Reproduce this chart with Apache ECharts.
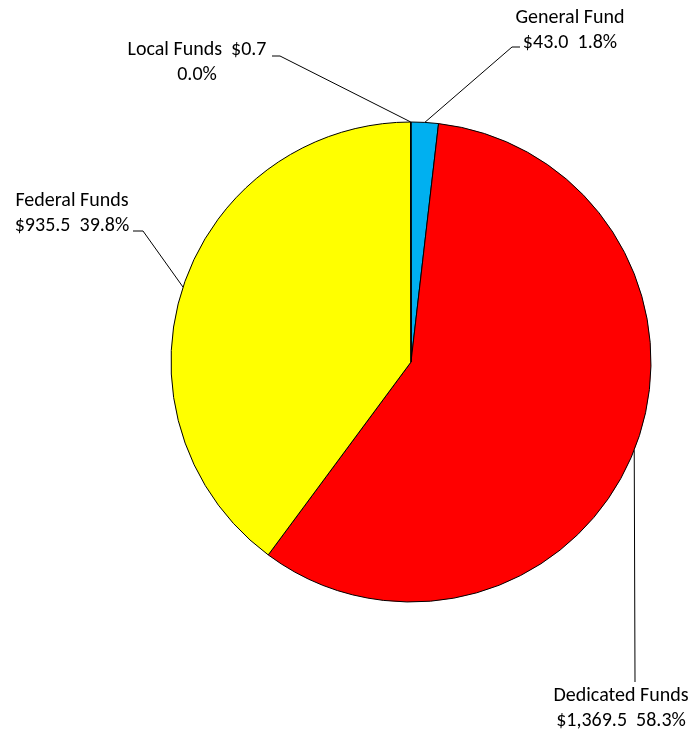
<!DOCTYPE html>
<html>
<head>
<meta charset="utf-8">
<script src="https://cdn.jsdelivr.net/npm/echarts@6/dist/echarts.min.js"></script>
<style>
  html, body { margin: 0; padding: 0; background: #fff; }
</style>
</head>
<body>
<div id="chart" style="width: 696px; height: 734px"></div>
<script>
// funds, in millions, clockwise from 12 o'clock
const names = ["General Fund", "Dedicated Funds", "Federal Funds", "Local Funds"];
const amounts = [43.0, 1369.5, 935.5, 0.7];
const amountLabels = ["$43.0", "$1,369.5", "$935.5", "$0.7"];

const colors = ["#00B0F0", "#FF0000", "#FFFF00", "#00B0F0"];

// label anchor (text center) and elbow of the leader line, per slice
const labelPos = [
  { x: 570, y: 30, elbow: [[512, 47], [520, 47]] },
  { x: 621, y: 708, elbow: [[635, 682]] },
  { x: 72, y: 213, elbow: [[143, 231], [133, 231]] },
  { x: 197, y: 62, elbow: [[280, 56], [272, 56]] },
];

const total = amounts.reduce((a, b) => a + b, 0);

const chart = echarts.init(document.getElementById("chart"));

chart.setOption({
  animation: false,
  textStyle: { fontFamily: "Carlito, Lato, sans-serif" },
  series: [
    {
      type: "pie",
      center: [411, 362],
      radius: 240,
      startAngle: 90,
      clockwise: true,
      minAngle: 0,
      avoidLabelOverlap: false,
      data: names.map((n, i) => ({
        name: n,
        value: amounts[i],
        itemStyle: { color: colors[i] },
      })),
      itemStyle: { borderColor: "#000", borderWidth: 1 },
      label: {
        show: true,
        color: "#000",
        fontSize: 20,
        lineHeight: 25,
        fontFamily: "Carlito, Lato, sans-serif",
        formatter: (p) => {
          const i = p.dataIndex;
          const pct = ((amounts[i] / total) * 100).toFixed(1) + "%";
          if (i === 3) return names[i] + "  " + amountLabels[i] + "\n" + pct;
          return names[i] + "\n" + amountLabels[i] + "  " + pct;
        },
      },
      labelLine: {
        show: true,
        lineStyle: { color: "#000", width: 1 },
      },
      labelLayout: (params) => {
        const i = params.dataIndex;
        const pos = labelPos[i];
        const start = params.labelLinePoints ? params.labelLinePoints[0] : [411, 122];
        return {
          x: pos.x,
          y: pos.y,
          align: "center",
          verticalAlign: "middle",
          labelLinePoints: [start].concat(pos.elbow),
        };
      },
      emphasis: { disabled: true },
    },
  ],
});
</script>
</body>
</html>
